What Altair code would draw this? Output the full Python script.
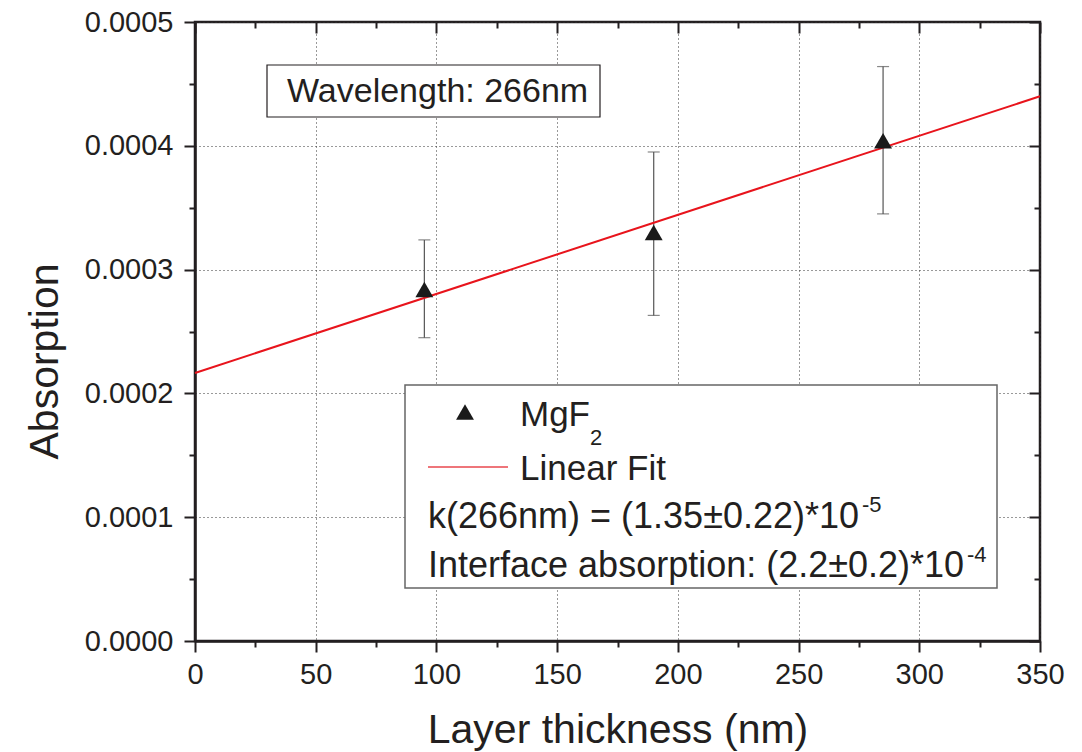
import altair as alt
import pandas as pd

# ---- data ----
thickness = [95, 190, 285]
absorption = [0.000284, 0.000330, 0.000404]
err_low = [0.000245, 0.000263, 0.000345]
err_high = [0.000324, 0.000395, 0.000464]

fit_x = [0, 350]
fit_y = [0.0002165, 0.000440]

x_major = [0, 50, 100, 150, 200, 250, 300, 350]
x_minor = [25, 75, 125, 175, 225, 275, 325]
y_major = [0.0, 0.0001, 0.0002, 0.0003, 0.0004, 0.0005]
y_minor = [0.00005, 0.00015, 0.00025, 0.00035, 0.00045]

points = pd.DataFrame({"thickness": thickness, "absorption": absorption,
                       "low": err_low, "high": err_high})
fit = pd.DataFrame({"thickness": fit_x, "absorption": fit_y})
dummy = pd.DataFrame({"a": [0]})

W, H = 845, 619
FONT = "Liberation Sans"
INK = "#231f20"

xs = alt.Scale(domain=[0, 350], nice=False, zero=False)
ys = alt.Scale(domain=[0, 0.0005], nice=False, zero=False)


def axis_layer(xaxis, yaxis):
    return alt.Chart(points).mark_point(opacity=0).encode(
        x=alt.X("thickness:Q", scale=xs, axis=xaxis),
        y=alt.Y("absorption:Q", scale=ys, axis=yaxis),
    )


common = dict(tickColor=INK, tickWidth=2, domainColor=INK, domainWidth=2.5,
              labelFont=FONT, labelColor=INK, labelFontSize=29,
              titleFont=FONT, titleColor=INK, titleFontWeight="normal")

ax_bottom = alt.Axis(orient="bottom", values=x_major, format="d",
                     title="Layer thickness (nm)", titleFontSize=41,
                     titleX=W / 2, titleY=101, titleBaseline="alphabetic",
                     titleAlign="center", labelPadding=8, tickSize=11,
                     labelFlush=False, labelOverlap=False,
                     grid=True, gridDash=[1, 3], gridColor="#333", gridWidth=1,
                     **common)
ax_left = alt.Axis(orient="left", values=y_major, format=".4f",
                   title="Absorption", titleFontSize=41,
                   titleX=-138, titleY=339, titleBaseline="alphabetic",
                   titleAlign="center", labelPadding=11, tickSize=11,
                   labelFlush=False, labelOverlap=False,
                   grid=True, gridDash=[1, 3], gridColor="#333", gridWidth=1,
                   **common)


def bare(orient, values, size, offset=0):
    return alt.Axis(orient=orient, values=values, labels=False, title=None,
                    tickSize=size, tickWidth=2, tickColor=INK, domain=False,
                    grid=False, offset=offset)


layer_a = axis_layer(ax_bottom, ax_left)
layer_b = axis_layer(bare("bottom", x_minor, 6), bare("left", y_minor, 6))
layer_c = axis_layer(bare("top", x_major, 11, -11), bare("right", y_major, 11, -11))
layer_d = axis_layer(bare("top", x_minor, 6, -6), bare("right", y_minor, 6, -6))

err_rule = alt.Chart(points).mark_rule(color="#555", strokeWidth=1.2).encode(
    x=alt.X("thickness:Q", scale=xs, axis=None),
    y=alt.Y("low:Q", scale=ys, axis=None),
    y2="high:Q",
)
cap_low = alt.Chart(points).mark_tick(orient="horizontal", size=12, thickness=1.2,
                                      color="#555").encode(
    x=alt.X("thickness:Q", scale=xs, axis=None),
    y=alt.Y("low:Q", scale=ys, axis=None),
)
cap_high = alt.Chart(points).mark_tick(orient="horizontal", size=12, thickness=1.2,
                                       color="#555").encode(
    x=alt.X("thickness:Q", scale=xs, axis=None),
    y=alt.Y("high:Q", scale=ys, axis=None),
)
fit_line = alt.Chart(fit).mark_line(color="#e8141c", strokeWidth=2).encode(
    x=alt.X("thickness:Q", scale=xs, axis=None),
    y=alt.Y("absorption:Q", scale=ys, axis=None),
)
pts = alt.Chart(points).mark_point(shape="triangle-up", filled=True, size=320,
                                   color="#1a1a1a", opacity=1).encode(
    x=alt.X("thickness:Q", scale=xs, axis=None),
    y=alt.Y("absorption:Q", scale=ys, axis=None),
)


def box(x1, x2, y1, y2, stroke, sw):
    return alt.Chart(dummy).mark_rect(fill="white", stroke=stroke, strokeWidth=sw).encode(
        x=alt.value(x1), x2=alt.value(x2), y=alt.value(y1), y2=alt.value(y2))


def txt(s, x, y, size):
    return alt.Chart(dummy).mark_text(text=s, align="left", baseline="alphabetic",
                                      font=FONT, fontSize=size, color=INK).encode(
        x=alt.value(x), y=alt.value(y))


wl_box = box(72, 405, 43, 95, INK, 1.2)
wl_text = txt("Wavelength: 266nm", 92, 80, 34)

lg_box = box(210, 802, 363, 566, "#666", 1.5)
lg_sym = alt.Chart(dummy).mark_point(shape="triangle-up", filled=True, size=320,
                                     color="#1a1a1a", opacity=1).encode(
    x=alt.value(270), y=alt.value(390))
lg_line = alt.Chart(dummy).mark_rule(color="#e8474e", strokeWidth=1.5).encode(
    x=alt.value(233), x2=alt.value(313), y=alt.value(445))

texts = [
    txt("MgF", 325, 404, 35),
    txt("2", 395, 423, 22),
    txt("Linear Fit", 325, 458, 35),
    txt("k(266nm) = (1.35\u00b10.22)*10", 233, 506, 36),
    txt("-5", 667, 490, 22),
    txt("Interface absorption: (2.2\u00b10.2)*10", 233, 555, 36),
    txt("-4", 772, 540, 22),
]

chart = alt.layer(
    layer_a, layer_b, layer_c, layer_d,
    err_rule, cap_low, cap_high, fit_line, pts,
    wl_box, wl_text, lg_box, lg_sym, lg_line, *texts,
).resolve_axis(x="independent", y="independent").properties(
    width=W, height=H,
    autosize=alt.AutoSizeParams(type="none"),
    padding={"left": 195, "top": 22, "right": 42, "bottom": 111},
    background="white",
).configure_view(stroke=INK, strokeWidth=2.5)

chart.save("out.html", embed_options={"renderer": "svg", "actions": False})
